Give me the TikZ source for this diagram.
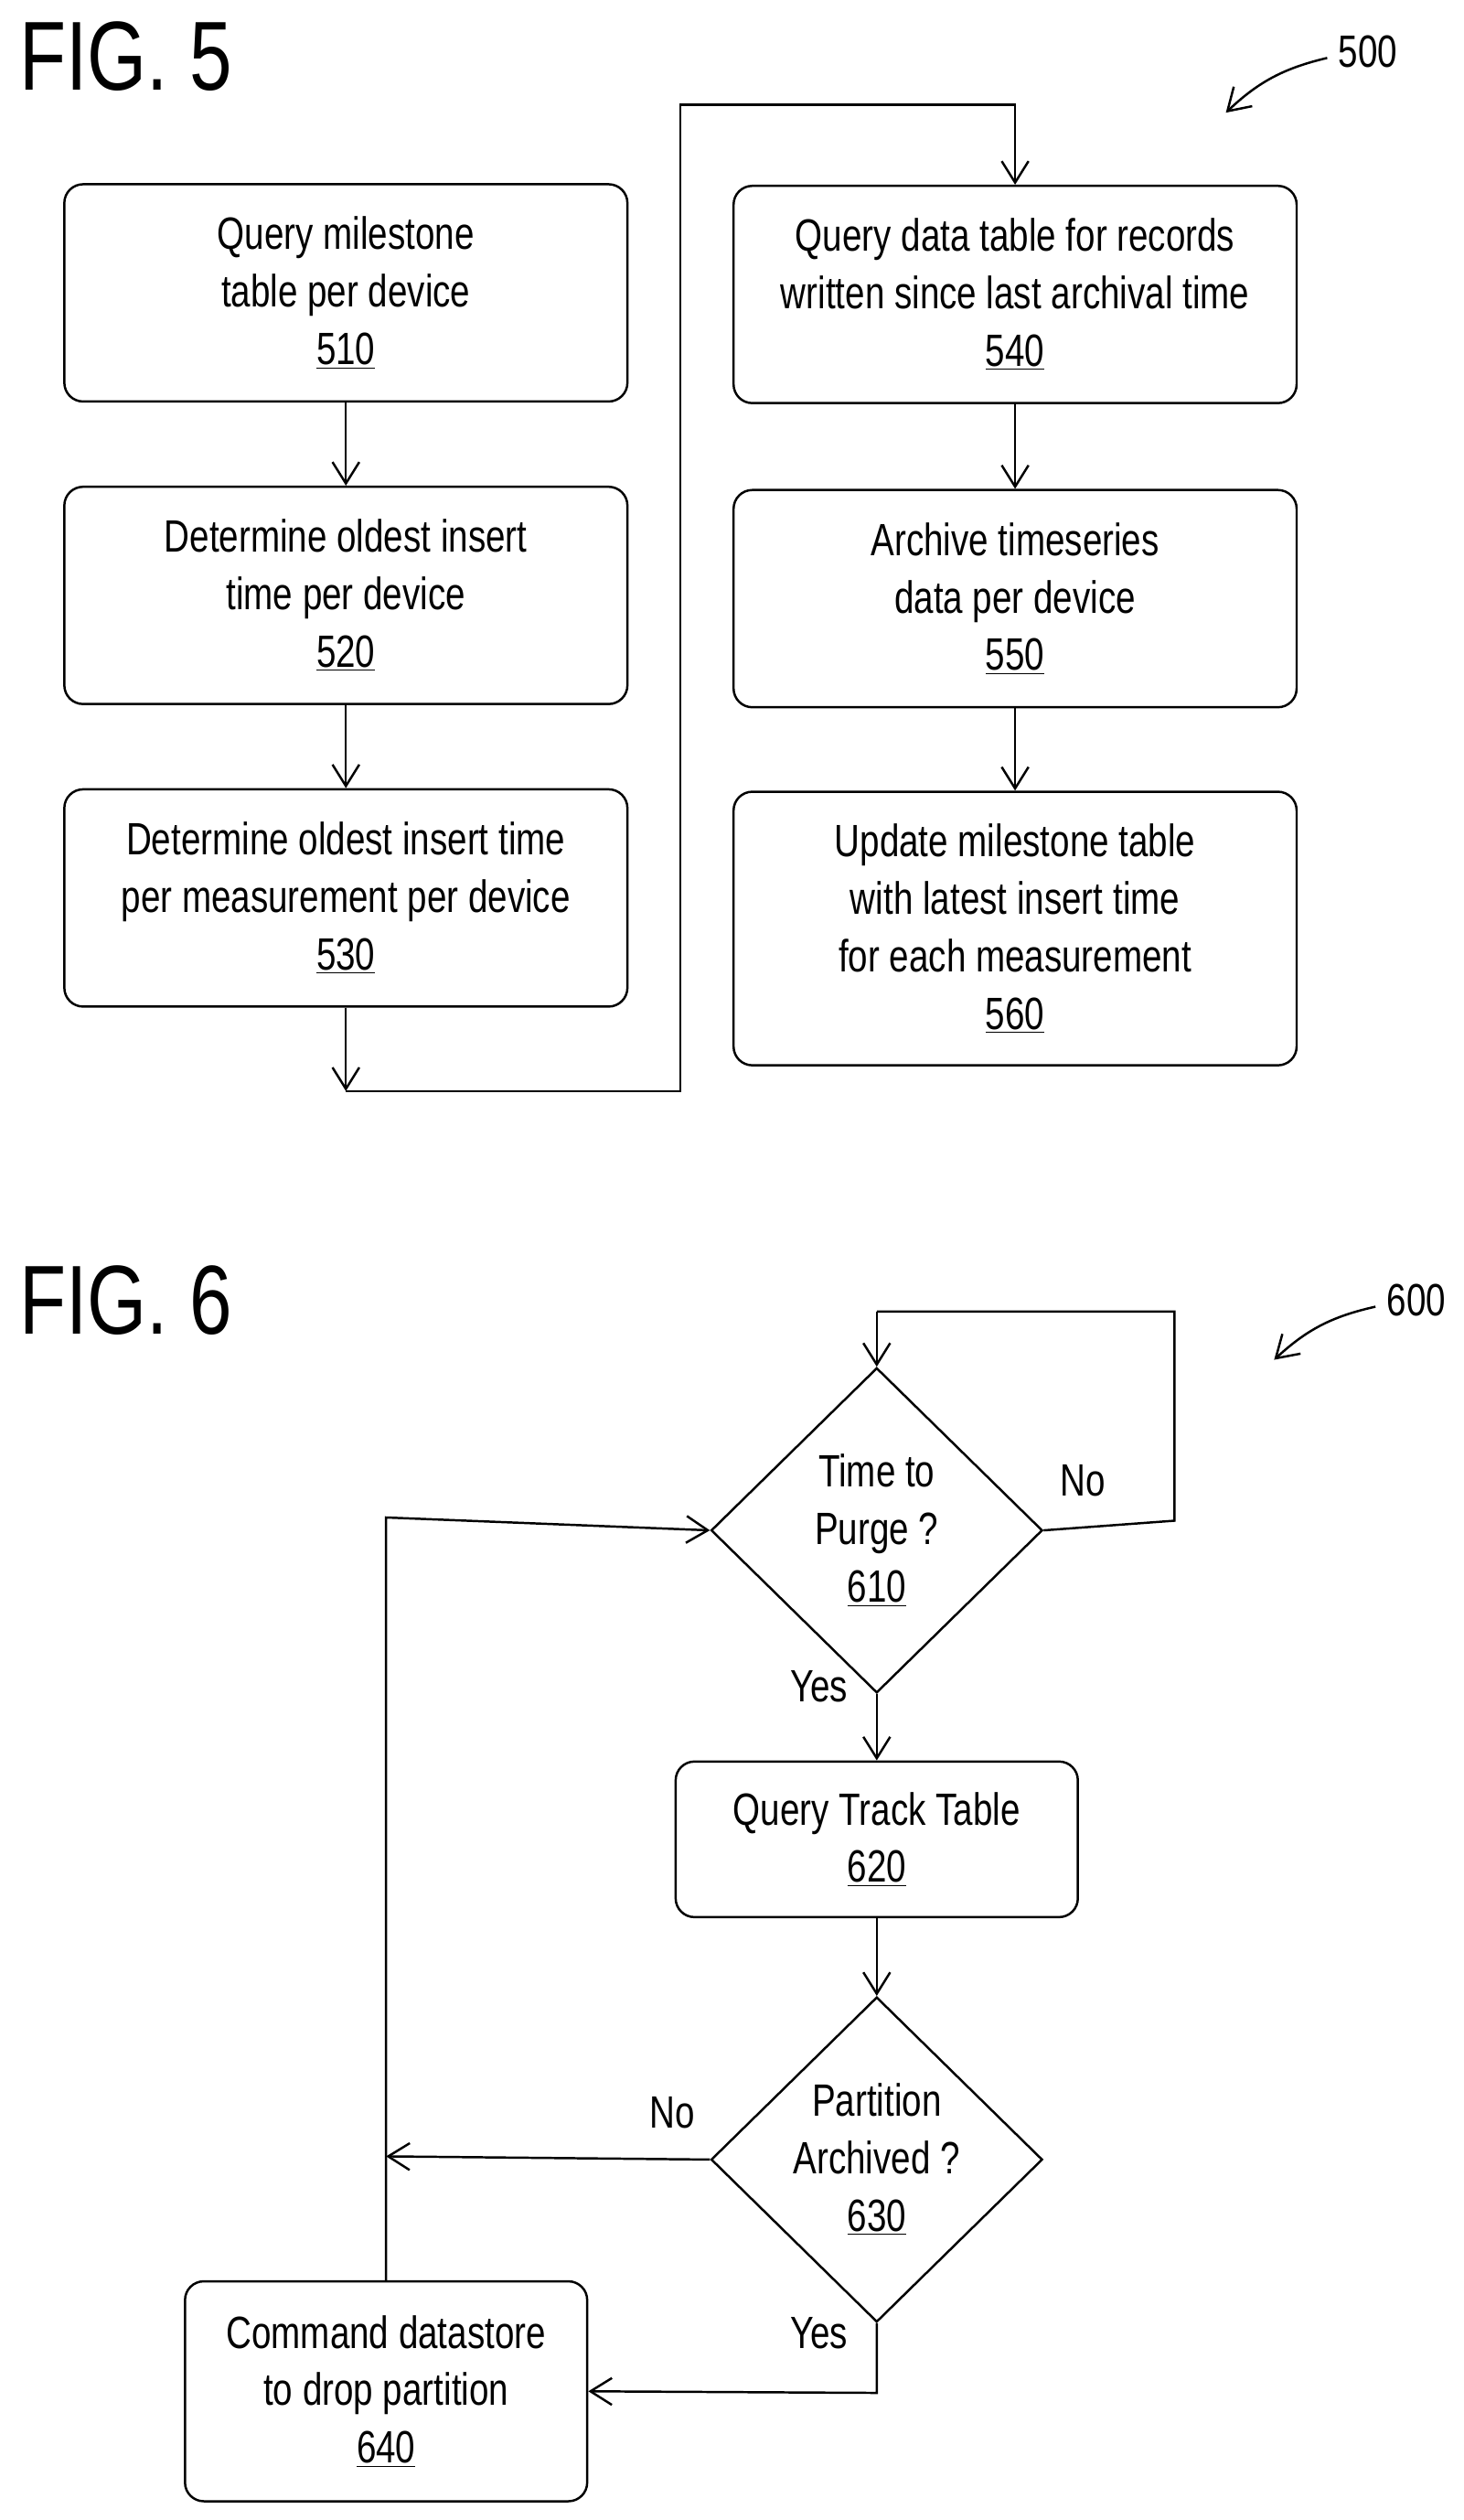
\documentclass[tikz,border=0pt]{standalone}
\usepackage{fontspec}
\setmainfont{Liberation Sans}[FakeStretch=0.78]
\usetikzlibrary{shapes.geometric,arrows.meta}
\tikzset{
  box/.style={draw,line width=1.2pt,rounded corners=0.35cm,align=center,inner sep=0pt,
    minimum width=10.5cm,minimum height=4.05cm,font=\fontsize{24}{30.5}\selectfont},
  dia/.style={draw,line width=1.2pt,diamond,align=center,inner sep=0pt,
    minimum width=6.18cm,minimum height=6.06cm,font=\fontsize{24}{30.5}\selectfont},
  flow/.style={line width=1.2pt,-{Straight Barb[length=4mm,width=5mm,line width=1.2pt]}},
  line/.style={line width=1.2pt},
  lbl/.style={font=\fontsize{24}{30.5}\selectfont},
  fig/.style={font=\fontsize{52}{60}\selectfont,anchor=west},
}
\newcommand{\refnum}[1]{\underline{#1}}
\begin{document}
\begin{tikzpicture}[x=0.03cm,y=-0.03cm]
  \useasboundingbox (0,0) rectangle (910,1566);
  %% Fig. 5
  \node[fig] (f5) at (8,35) {FIG. 5};
  \node[lbl,anchor=west] (n500) at (828,32) {500};
  \draw[flow] (825,36) to[bend right=15] (762,70);
  \node[box] (b510) at (215,182) {Query milestone\\table per device\\\refnum{510}};
  \node[box] (b520) at (215,370) {Determine oldest insert\\time per device\\\refnum{520}};
  \node[box] (b530) at (215,558) {Determine oldest insert time\\per measurement per device\\\refnum{530}};
  \node[box] (b540) at (631,183) {Query data table for records\\written since last archival time\\\refnum{540}};
  \node[box] (b550) at (631,372) {Archive timeseries\\data per device\\\refnum{550}};
  \node[box,minimum height=5.1cm] (b560) at (631,577) {Update milestone table\\with latest insert time\\for each measurement\\\refnum{560}};
  \coordinate (c1) at (215,678);
  \draw[flow] (b510) -- (b520);
  \draw[flow] (b520) -- (b530);
  \draw[flow] (b530) -- (c1);
  \draw[flow] (c1) -- (423,678) -- (423,65) -- (631,65) -- (b540);
  \draw[flow] (b540) -- (b550);
  \draw[flow] (b550) -- (b560);
  %% Fig. 6
  \node[fig] (f6) at (8,808) {FIG. 6};
  \node[lbl,anchor=west] (n600) at (858,808) {600};
  \draw[flow] (855,812) to[bend right=15] (792,845);
  \node[dia] (d610) at (545,951) {Time to\\Purge ?\\\refnum{610}};
  \node[box,minimum width=7.5cm,minimum height=2.9cm] (b620) at (545,1143) {Query Track Table\\\refnum{620}};
  \node[dia] (d630) at (545,1342) {Partition\\Archived ?\\\refnum{630}};
  \node[box,minimum width=7.5cm,minimum height=4.1cm] (b640) at (240,1486) {Command datastore\\to drop partition\\\refnum{640}};
  \coordinate (c2) at (240,1340);
  \draw[line] (d610.east) -- (730,945) -- (730,815) -- (545,815);
  \draw[flow] (545,815) -- (d610.north);
  \node[lbl] (no1) at (673,920) {No};
  \draw[flow] (d610.south) -- (b620);
  \node[lbl] (yes1) at (509,1048) {Yes};
  \draw[flow] (b620) -- (d630.north);
  \draw[flow] (d630.west) -- (c2);
  \node[lbl] (no2) at (418,1313) {No};
  \draw[flow] (d630.south) -- (545,1487) -- (b640.east);
  \node[lbl] (yes2) at (509,1450) {Yes};
  \draw[flow] (b640.north) -- (240,943) -- (d610.west);
\end{tikzpicture}
\end{document}
